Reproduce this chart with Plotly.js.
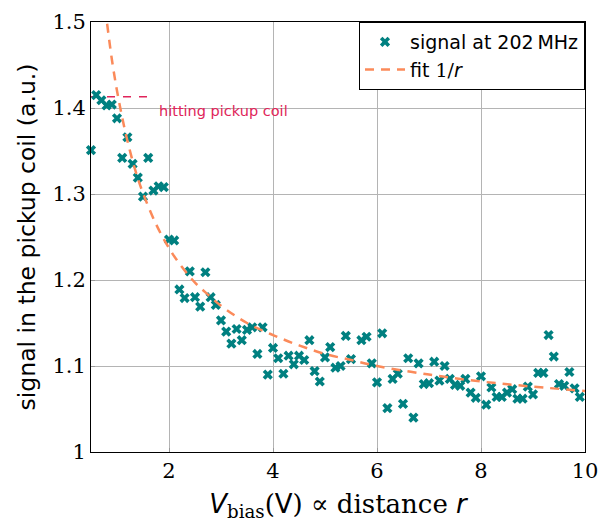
<!DOCTYPE html>
<html>
<head>
<meta charset="utf-8">
<script src="https://cdn.plot.ly/plotly-3.0.1.min.js"></script>
<style>
  html, body { margin: 0; padding: 0; background: #fff; }
  #chart { width: 601px; height: 528px; }
</style>
</head>
<body>
<div id="chart"></div>
<script>
// measured signal at 202 MHz
const biasV = [0.5,0.6,0.7,0.8,0.9,1.0,1.1,1.2,1.3,1.4,1.5,1.6,1.7,1.8,1.9,
  2.0,2.1,2.2,2.3,2.4,2.5,2.6,2.7,2.8,2.9,
  3.0,3.1,3.2,3.3,3.4,3.5,3.6,3.7,3.8,3.9,
  4.0,4.1,4.2,4.3,4.4,4.5,4.6,4.7,4.8,4.9,
  5.0,5.1,5.2,5.3,5.4,5.5,5.7,5.8,5.9,
  6.0,6.1,6.2,6.3,6.4,6.5,6.6,6.7,6.8,6.9,
  7.0,7.1,7.2,7.3,7.4,7.5,7.6,7.7,7.8,7.9,
  8.0,8.1,8.2,8.3,8.4,8.5,8.6,8.7,8.8,8.9,
  9.0,9.1,9.2,9.3,9.4,9.5,9.6,9.7,9.8,9.9];
const signal = [1.351,1.415,1.409,1.403,1.404,1.388,1.342,1.366,1.335,1.319,1.297,1.342,1.304,1.309,1.308,
  1.247,1.246,1.189,1.179,1.210,1.180,1.169,1.209,1.180,1.171,
  1.153,1.140,1.126,1.143,1.130,1.142,1.145,1.114,1.145,1.090,
  1.121,1.109,1.091,1.112,1.102,1.112,1.107,1.130,1.094,1.082,
  1.110,1.122,1.098,1.100,1.135,1.108,1.130,1.134,1.103,
  1.081,1.138,1.051,1.085,1.091,1.056,1.109,1.040,1.103,1.079,
  1.080,1.105,1.083,1.100,1.085,1.078,1.077,1.085,1.069,1.063,
  1.088,1.055,1.075,1.064,1.064,1.069,1.073,1.062,1.062,1.076,
  1.067,1.092,1.092,1.136,1.111,1.079,1.077,1.093,1.074,1.064];

// fit 1/r curve
const fitX = [0.81,0.9,1.0,1.1,1.2,1.35,1.5,1.75,2.0,2.25,2.5,2.75,3.0,3.5,4.0,4.5,5.0,5.5,6.0,7.0,8.0,9.0,10.0];
const fitY = [1.498,1.457,1.420,1.389,1.362,1.328,1.301,1.265,1.237,1.215,1.197,1.183,1.170,1.150,1.136,1.124,1.114,1.107,1.100,1.090,1.082,1.076,1.071];

// "hitting pickup coil" marker line
const coilX = [0.5, 1.6];
const coilY = [1.413, 1.413];

const xTicks = [2,4,6,8,10];
const yTicks = [1,1.1,1.2,1.3,1.4,1.5];
const yTickText = ['1','1.1','1.2','1.3','1.4','1.5'];

const SANS = 'DejaVu Sans';
const SERIF = 'DejaVu Serif, Liberation Serif, serif';
const TEAL = '#008080';
const CORAL = '#fb8a5a';
const CRIMSON = '#e0245a';

function serif(t) { return '<span style="font-family:DejaVu Serif, serif">' + t + '</span>'; }

const traces = [
  {
    x: coilX, y: coilY, mode: 'lines', showlegend: false, hoverinfo: 'skip',
    line: {color: CRIMSON, width: 1.6, dash: '8px,8px'}
  },
  {
    x: biasV, y: signal, mode: 'markers', type: 'scatter',
    name: 'signal at 202\u2009MHz', cliponaxis: false,
    marker: {symbol: 'x', size: 9, color: TEAL, line: {width: 0}}
  },
  {
    x: fitX, y: fitY, mode: 'lines', type: 'scatter',
    name: 'fit ' + serif('1/') + '<i>r</i>',
    line: {color: CORAL, width: 2.5, dash: '9px,7px', shape: 'spline'}
  }
];

const layout = {
  width: 601, height: 528,
  margin: {l: 91, r: 16, t: 22, b: 76},
  paper_bgcolor: '#fff', plot_bgcolor: '#fff',
  showlegend: true,
  legend: {
    x: 1, y: 1, xanchor: 'right', yanchor: 'top',
    bgcolor: '#fff', bordercolor: '#000', borderwidth: 1,
    font: {family: SANS, size: 19, color: '#000'},
    tracegroupgap: 0, itemwidth: 40
  },
  xaxis: {
    range: [0.5, 10], tickvals: xTicks, ticktext: xTicks.map(String),
    showgrid: true, gridcolor: '#b4b4b4', gridwidth: 1,
    zeroline: false, showline: true, linecolor: '#000', linewidth: 1, mirror: true,
    ticks: 'inside', ticklen: 4, tickcolor: '#999',
    tickfont: {family: SERIF, size: 21, color: '#000'},
    title: {
      text: '<i>V</i><sub>' + serif('bias') + '</sub>' + serif('(') + 'V' + serif(') \u221D distance ') + '<i>r</i>',
      font: {family: SANS, size: 26, color: '#000'}, standoff: 12
    }
  },
  yaxis: {
    range: [1, 1.5], tickvals: yTicks, ticktext: yTickText,
    showgrid: true, gridcolor: '#b4b4b4', gridwidth: 1,
    zeroline: false, showline: true, linecolor: '#000', linewidth: 1, mirror: true,
    ticks: 'inside', ticklen: 4, tickcolor: '#999',
    tickfont: {family: SERIF, size: 21, color: '#000'},
    title: {
      text: 'signal in the pickup coil (a.u.)',
      font: {family: SANS, size: 23.5, color: '#000'}, standoff: 10
    }
  },
  annotations: [{
    x: 1.76, y: 1.396, xref: 'x', yref: 'y', xanchor: 'left', yanchor: 'middle',
    text: 'hitting pickup coil', showarrow: false,
    font: {family: SANS, size: 14.5, color: CRIMSON}
  }]
};

Plotly.newPlot('chart', traces, layout, {displayModeBar: false, staticPlot: true});
</script>
</body>
</html>
